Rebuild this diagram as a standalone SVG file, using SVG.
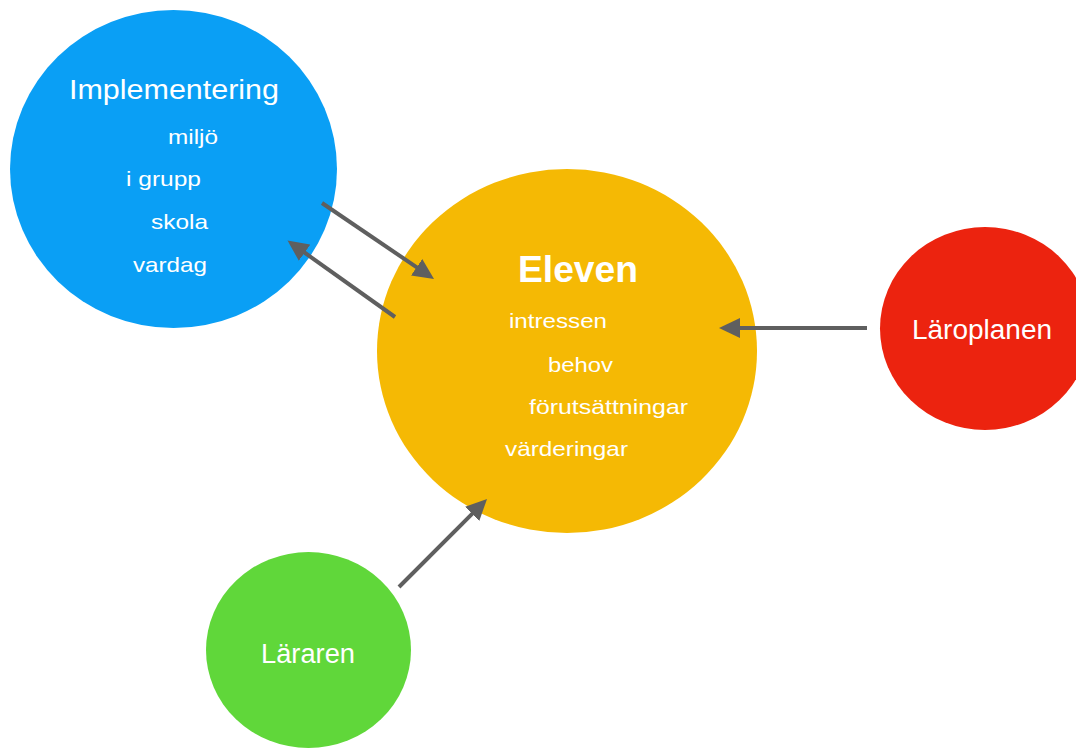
<svg xmlns="http://www.w3.org/2000/svg" width="1076" height="749" viewBox="0 0 1076 749">
<style>
text{font-family:"Liberation Sans",Arial,sans-serif;fill:#fff}
.t{font-size:27px}
.s{font-size:21px}
.b{font-size:36px;font-weight:bold}
.c{stroke:#5f5f5f;stroke-width:4;fill:none;marker-end:url(#ah)}
</style>
<defs>
<marker id="ah" markerUnits="userSpaceOnUse" markerWidth="21" markerHeight="20" refX="2" refY="10" orient="auto">
<path d="M0,0 L21,10 L0,20 z" fill="#5f5f5f"/>
</marker>
</defs>
<rect width="1076" height="749" fill="#fff"/>
<g id="implementering">
<ellipse cx="173.5" cy="169" rx="163.5" ry="159" fill="#0a9ff5"/>
<text class="t" x="69" y="99" textLength="210" lengthAdjust="spacingAndGlyphs">Implementering</text>
<text class="s" x="168" y="144" textLength="50" lengthAdjust="spacingAndGlyphs">miljö</text>
<text class="s" x="126" y="186" textLength="75" lengthAdjust="spacingAndGlyphs">i grupp</text>
<text class="s" x="151" y="229" textLength="57" lengthAdjust="spacingAndGlyphs">skola</text>
<text class="s" x="133" y="272" textLength="74" lengthAdjust="spacingAndGlyphs">vardag</text>
</g>
<g id="eleven">
<ellipse cx="567" cy="351" rx="190" ry="182" fill="#f5b904"/>
<text class="b" x="518" y="282" textLength="120" lengthAdjust="spacingAndGlyphs">Eleven</text>
<text class="s" x="509" y="328" textLength="98" lengthAdjust="spacingAndGlyphs">intressen</text>
<text class="s" x="548" y="372" textLength="65" lengthAdjust="spacingAndGlyphs">behov</text>
<text class="s" x="529" y="414" textLength="159" lengthAdjust="spacingAndGlyphs">förutsättningar</text>
<text class="s" x="505" y="456" textLength="123" lengthAdjust="spacingAndGlyphs">värderingar</text>
</g>
<g id="laroplanen">
<ellipse cx="985" cy="328.5" rx="105" ry="101.5" fill="#ec230f"/>
<text class="t" x="912" y="339" textLength="140" lengthAdjust="spacingAndGlyphs">Läroplanen</text>
</g>
<g id="lararen">
<ellipse cx="308.5" cy="650" rx="102.5" ry="98" fill="#60d73a"/>
<text class="t" x="261" y="663" textLength="94" lengthAdjust="spacingAndGlyphs">Läraren</text>
</g>
<g id="connectors">
<line class="c" x1="322" y1="203" x2="418.3" y2="268.4"/>
<line class="c" x1="395" y1="317" x2="303" y2="251.5"/>
<line class="c" x1="867" y1="328" x2="738" y2="328"/>
<line class="c" x1="399" y1="587" x2="473.6" y2="512.4"/>
</g>
</svg>
